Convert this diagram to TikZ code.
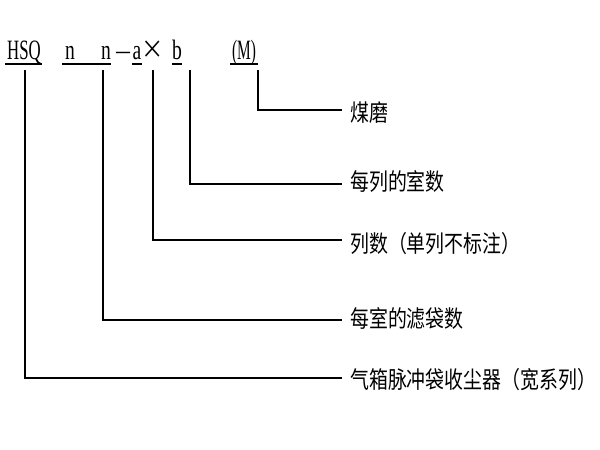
\documentclass[tikz,border=0pt]{standalone}
\usepackage{fontspec}
\setmainfont{Liberation Serif}
\newfontfamily\cjk{Noto Sans CJK SC}
\begin{document}
\begin{tikzpicture}[x=1pt,y=-1pt,
  code/.style={inner sep=0pt,anchor=base,font=\fontsize{28}{28}\selectfont},
  lbl/.style={anchor=west,inner sep=0pt,font=\cjk\fontsize{21}{21}\selectfont},
  ul/.style={line width=1.2pt},
  ln/.style={line width=1.2pt}]
\useasboundingbox (0,0) rectangle (600,450);
\node[code] (hsq) at (24,59) {\scalebox{0.6}[1]{HSQ}};
\node[code] (n1) at (70,59) {\scalebox{0.7}[1]{n}};
\node[code] (n2) at (106,59) {\scalebox{0.7}[1]{n}};
\node[code] (dash) at (123,59) {\scalebox{0.5}[1]{—}};
\node[code] (a) at (137,59) {\scalebox{0.7}[1]{a}};
\node[code] (x) at (153,58) {\scalebox{0.8}[0.9]{\cjk ×}};
\node[code] (b) at (177,59) {\scalebox{0.7}[1]{b}};
\node[code] (m) at (244,59) {\scalebox{0.55}[1]{(M)}};
\draw[ul] (5,64) -- (42,64);
\draw[ul] (62,64) -- (111,64);
\draw[ul] (132,64) -- (142,64);
\draw[ul] (172,64) -- (182,64);
\draw[ul] (230,64) -- (258,64);
\node[lbl] (l1) at (350,113) {\scalebox{0.9}[1.12]{煤磨}};
\node[lbl] (l2) at (350,182) {\scalebox{0.9}[1.12]{每列的室数}};
\node[lbl] (l3) at (350,244) {\scalebox{0.9}[1.12]{列数（单列不标注）}};
\node[lbl] (l4) at (350,318) {\scalebox{0.9}[1.12]{每室的滤袋数}};
\node[lbl] (l5) at (350,380) {\scalebox{0.9}[1.12]{气箱脉冲袋收尘器（宽系列）}};
\coordinate (c1) at (258,70);
\coordinate (c2) at (190,70);
\coordinate (c3) at (153,70);
\coordinate (c4) at (103,70);
\coordinate (c5) at (25,70);
\draw[ln] (c1) |- (342,110);
\draw[ln] (c2) |- (342,184);
\draw[ln] (c3) |- (342,240);
\draw[ln] (c4) |- (342,320);
\draw[ln] (c5) |- (342,378);
\end{tikzpicture}
\end{document}
